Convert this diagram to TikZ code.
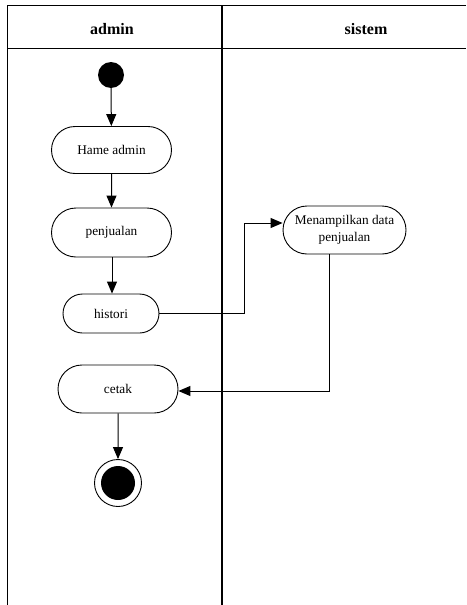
\documentclass[tikz,border=0pt]{standalone}
\usepackage{fontspec}
\setmainfont{Liberation Serif}
\newfontfamily\diagfont{Liberation Serif}
\usetikzlibrary{arrows.meta,calc,shapes.misc}
\begin{document}
\begin{tikzpicture}[x=1pt,y=-1pt,
  lane/.style={line width=1.1pt},
  act/.style={draw, line width=0.9pt, rounded rectangle, align=center,
    font=\diagfont\fontsize{13.3}{17}\selectfont, inner sep=0pt},
  flow/.style={line width=1pt, -{Triangle[length=12pt,width=10pt]}},
  head/.style={font=\diagfont\fontsize{16}{19}\selectfont\bfseries}]
\useasboundingbox (0,0) rectangle (466,605);

% swimlane frame
\draw[lane] (466,5.5) -- (7.5,5.5) -- (7.5,605);
\draw[lane] (7.5,48.5) -- (466,48.5);
\draw[lane] (222,5.5) -- (222,605);
\node[head] (hadmin) at (112,29) {admin};
\node[head] (hsistem) at (366,29) {sistem};

% admin lane
\node[circle, fill=black, minimum size=26pt, inner sep=0pt] (start) at (111,75) {};
\node[act, minimum width=120pt, minimum height=47pt] (home) at (111.5,150) {Hame admin};
\node[act, minimum width=120pt, minimum height=49pt] (jual) at (111.5,232.5) {penjualan};
\node[act, minimum width=96pt, minimum height=39pt] (hist) at (111,313.5) {histori};
\node[act, minimum width=120pt, minimum height=48pt] (cetak) at (118,389) {cetak};
\node[circle, draw, line width=0.9pt, minimum size=47pt, inner sep=0pt] (stop) at (118,483) {};
\node[circle, fill=black, minimum size=34pt, inner sep=0pt] (stopin) at (stop.center) {};

% sistem lane
\node[act, minimum width=123pt, minimum height=48pt] (tampil) at (344.5,230) {Menampilkan data\\penjualan};

% bend points of the cross-lane flows
\coordinate (b1) at (244,223);
\coordinate (b2) at (329,391);

% flows
\draw[flow] (start) -- (home);
\draw[flow] (home) -- (jual);
\draw[flow] (jual.south -| 112,0) -- (hist.north -| 112,0);
\draw[flow] (hist.east) -| (b1) -- (tampil.west |- b1);
\draw[flow] (tampil.south -| b2) -- (b2) -- (cetak.east |- b2);
\draw[flow] (cetak) -- (stop);
\end{tikzpicture}
\end{document}
